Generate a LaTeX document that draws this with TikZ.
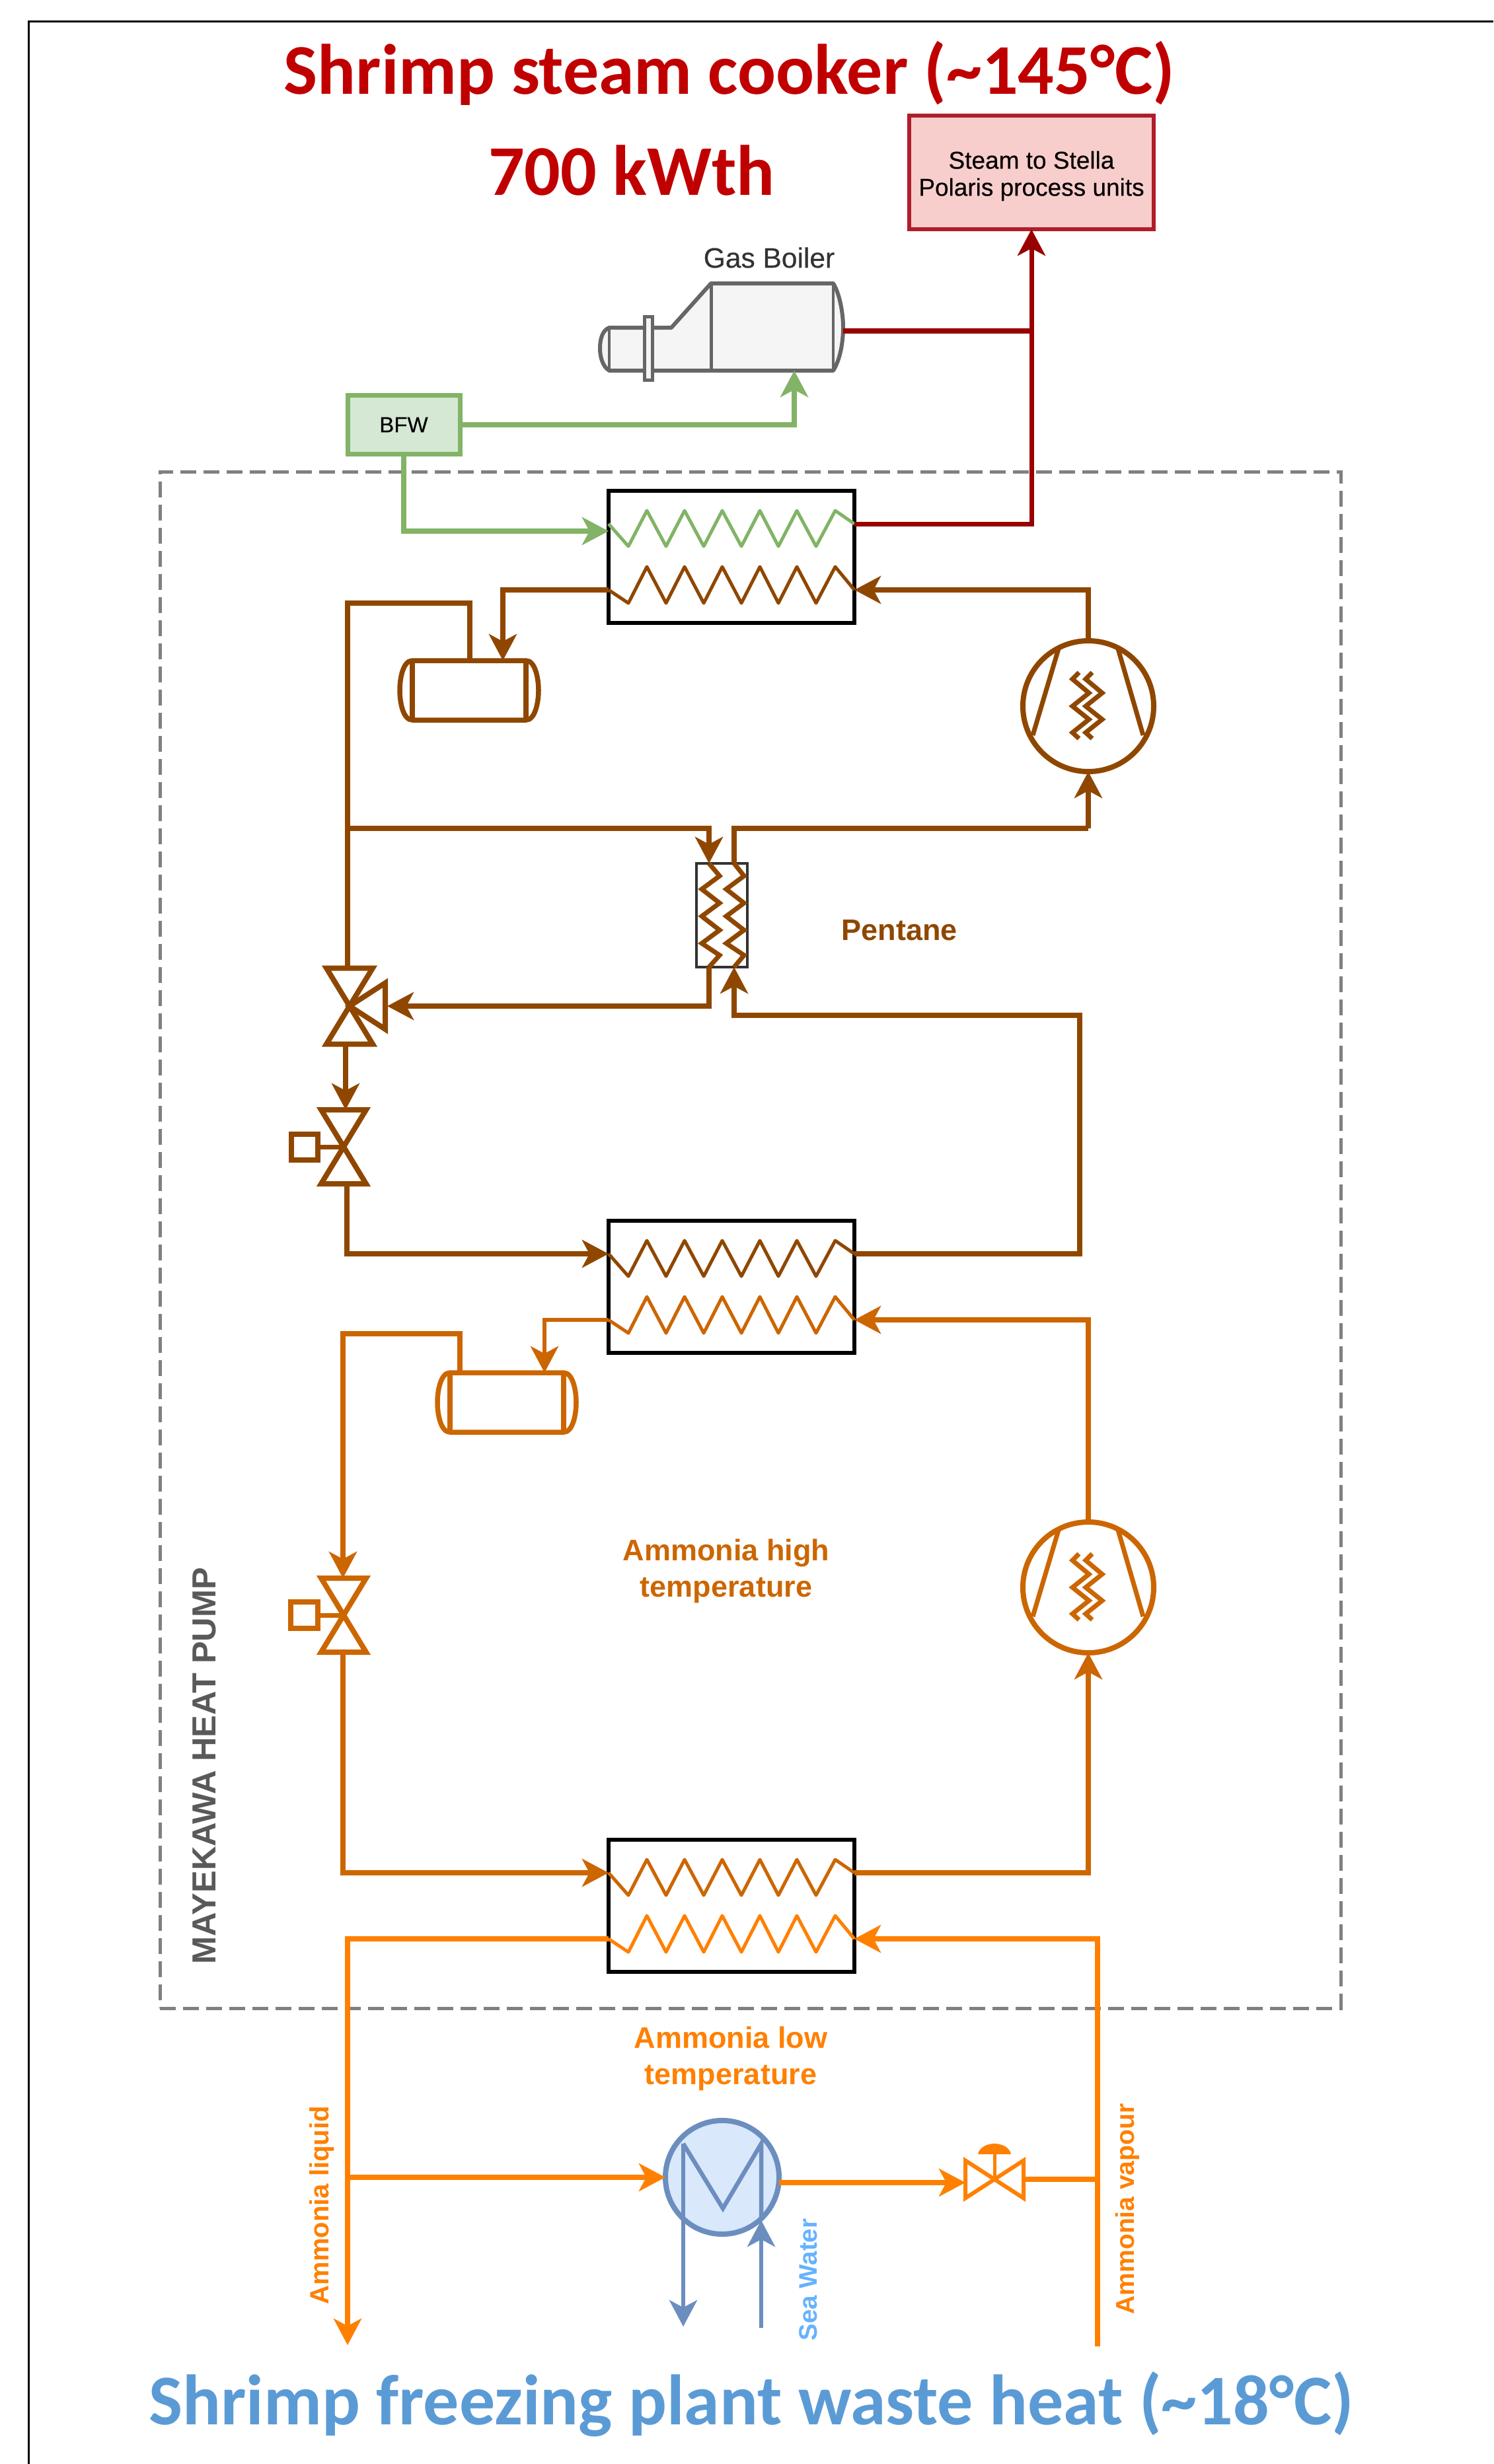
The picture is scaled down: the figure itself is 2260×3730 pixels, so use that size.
\documentclass[tikz,border=0pt]{standalone}
\usepackage{fontspec}
\setmainfont{Liberation Sans}
\newfontfamily\titlefont{Carlito}
\newfontfamily\heavyfont[FakeBold=0.35]{Liberation Sans}
\usetikzlibrary{arrows.meta}
\definecolor{cbrown}{HTML}{8F4700}
\definecolor{cmid}{HTML}{CC6600}
\definecolor{corange}{HTML}{FF8000}
\definecolor{cgreen}{HTML}{82B366}
\definecolor{cgreenf}{HTML}{D5E8D4}
\definecolor{cred}{HTML}{990000}
\definecolor{credb}{HTML}{AE1E2C}
\definecolor{credf}{HTML}{F8CECC}
\definecolor{ctitle}{HTML}{C00000}
\definecolor{cbluet}{HTML}{5B9BD5}
\definecolor{cshell}{HTML}{6C8EBF}
\definecolor{cshellf}{HTML}{DAE8FC}
\definecolor{csea}{HTML}{66B2FF}
\tikzset{
 pipe/.style={line width=8pt,miter limit=10},
 tipped/.style={-{Stealth[length=40pt,width=42pt,inset=11pt]}},
 hxbox/.style={draw=black,line width=5.5pt,minimum width=372pt,minimum height=200pt,inner sep=0pt,fill=white},
 coil/.style={line width=5pt,line join=round},
 sym/.style={inner sep=0pt,outer sep=0pt},
 label/.style={inner sep=0pt,font=\fontsize{45}{55}\selectfont\bfseries,align=center},
 bigtitle/.style={inner sep=0pt,anchor=base,font=\titlefont\fontsize{108}{110}\selectfont\bfseries}
}
\newcommand{\hxunit}[4]{%
 \begin{scope}[shift={(0,#2)}]
 \node[hxbox] (#1) at (1107,100) {};
 \coordinate (#1a) at (921,50); \coordinate (#1b) at (1293,50);
 \coordinate (#1c) at (921,150); \coordinate (#1d) at (1293,150);
 \draw[coil,#3] (#1a) -- (951,84) -- (979,30) -- (1008,84) -- (1036,30) -- (1065,84) -- (1093,30) -- (1122,84) -- (1150,30) -- (1178,84) -- (1206,30) -- (1235,84) -- (1264,30) -- (#1b);
 \draw[coil,#4] (#1c) -- (951,170) -- (979,115) -- (1008,170) -- (1036,115) -- (1065,170) -- (1093,115) -- (1122,170) -- (1150,115) -- (1178,170) -- (1206,115) -- (1235,170) -- (1264,115) -- (#1d);
 \end{scope}}
\newcommand{\compsym}[4]{%
 \node[sym,circle,draw=#4,line width=8pt,minimum size=198pt] (#1) at (#2,#3) {};
 \begin{scope}[shift={(#2,#3)},#4,line width=7pt]
 \draw (-45,-87) -- (-84,44);
 \draw (45,-87) -- (83,44);
 \draw (-14,-51) -- (-24,-41) -- (1,-20) -- (-24,0) -- (1,20) -- (-24,40) -- (-14,49);
 \draw (6,-51) -- (-4,-41) -- (21,-20) -- (-4,0) -- (21,20) -- (-4,40) -- (6,49);
 \end{scope}}
\newcommand{\tanksym}[4]{%
 \node[sym,minimum width=215pt,minimum height=90pt] (#1) at (#2,#3) {};
 \begin{scope}[shift={(#2,#3)},#4,line width=7.5pt]
 \draw (-86,-45) -- (86,-45) .. controls (100,-45) and (105,-18) .. (105,0) .. controls (105,18) and (100,45) .. (86,45) -- (-86,45) .. controls (-100,45) and (-105,18) .. (-105,0) .. controls (-105,-18) and (-100,-45) .. (-86,-45) -- cycle;
 \draw (-86,-45) -- (-86,45);
 \draw (86,-45) -- (86,45);
 \end{scope}}
\newcommand{\bowsym}[4]{%
 \node[sym,minimum width=68pt,minimum height=112pt] (#1) at (#2,#3) {};
 \draw[#4,line width=8pt,miter limit=10] (#1.north west) -- (#1.north east) -- (#1.south west) -- (#1.south east) -- cycle;}
\begin{document}
\begin{tikzpicture}[x=1pt,y=-1pt]
\useasboundingbox (0,0) rectangle (2260,3730);
% frame
\fill[white] (0,0) rectangle (2260,3730);
\draw[black,line width=3pt] (43,3730) -- (43,33) -- (2260,33);
% titles
\node[bigtitle,text=ctitle] (ttop) at (1104,143) {Shrimp steam cooker (\textasciitilde145°C)};
\node[bigtitle,text=ctitle] (tkw) at (956,296) {700 kWth};
\node[bigtitle,text=cbluet] (tbot) at (1137,3670) {Shrimp freezing plant waste heat (\textasciitilde18°C)};
% heat pump boundary
\node[sym,draw=gray,line width=5pt,dash pattern=on 24pt off 11pt,minimum width=1787pt,minimum height=2326pt] (hpbox) at (1135.5,1877) {};
\node[label,text=black!65,rotate=90,font=\fontsize{50.5}{55}\selectfont\bfseries] (hplab) at (309,2673) {MAYEKAWA HEAT PUMP};
% steam box, BFW, boiler
\node[sym,draw=credb,fill=credf,line width=6pt,minimum width=370pt,minimum height=172pt,text depth=0pt,font=\heavyfont\fontsize{37}{41}\selectfont,align=center] (steam) at (1561,261) {\raisebox{-3pt}{Steam to Stella}\\\raisebox{-3pt}{Polaris process units}};
\node[sym,draw=cgreen,fill=cgreenf,line width=7pt,minimum width=170pt,minimum height=89pt,font=\heavyfont\fontsize{33}{40}\selectfont] (bfw) at (611,643) {BFW};
\node[inner sep=0pt,text=black!80,font=\heavyfont\fontsize{42.5}{44}\selectfont] (gbl) at (1164,390) {Gas Boiler};
\node[sym,minimum width=367pt,minimum height=132pt] (boiler) at (1091.5,495) {};
\draw[draw=black!60,fill=black!4,line width=6pt,line join=round] (922,496) -- (1016,496) -- (1076,429) -- (1261,429) .. controls (1271,445) and (1276,475) .. (1276,495) .. controls (1276,520) and (1271,545) .. (1261,561) -- (922,561) .. controls (912,555) and (908,540) .. (908,528) .. controls (908,512) and (912,500) .. (922,496) -- cycle;
\draw[black!60,line width=5pt] (1076,429) -- (1076,561);
\draw[black!60,line width=4pt] (1261,429) -- (1261,561);
\draw[black!60,fill=black!4,line width=5pt] (975,479) rectangle (987,575);
\draw[black!60,line width=4pt] (922,496) -- (922,561);
% heat exchangers
\hxunit{hxa}{743}{cgreen}{cbrown}
\hxunit{hxb}{1848}{cbrown}{cmid}
\hxunit{hxc}{2785}{cmid}{corange}
% small heat exchanger
\node[sym,draw=black!80,line width=3.5pt,minimum width=77pt,minimum height=157pt] (shx) at (1092.5,1385.5) {};
\coordinate (shxa) at (1073,1307); \coordinate (shxb) at (1111,1307);
\coordinate (shxc) at (1073,1464); \coordinate (shxd) at (1111,1464);
\draw[cbrown,line width=7pt] (shxa) -- (1089,1326) -- (1062,1346) -- (1089,1367) -- (1062,1387) -- (1089,1408) -- (1062,1428) -- (1089,1446) -- (shxc);
\draw[cbrown,line width=7pt] (shxb) -- (1126,1326) -- (1099,1346) -- (1126,1367) -- (1099,1387) -- (1126,1408) -- (1099,1428) -- (1126,1446) -- (shxd);
% compressors, tanks
\compsym{compa}{1647}{1069}{cbrown}
\compsym{compb}{1647}{2403}{cmid}
\tanksym{tanka}{710}{1045}{cbrown}
\tanksym{tankb}{767}{2123}{cmid}
% valves
\node[sym,minimum width=70pt,minimum height=115pt] (vthree) at (529,1523) {};
\draw[cbrown,line width=8pt,miter limit=10] (vthree.north west) -- (vthree.north east) -- (vthree.south west) -- (vthree.south east) -- cycle;
\coordinate (vthreer) at (586,1523);
\draw[cbrown,line width=8pt,miter limit=10] (vthree.center) -- (583,1488) -- (583,1558) -- cycle;
\bowsym{vb}{520}{1736}{cbrown}
\node[sym,draw=cbrown,line width=8pt,minimum width=40pt,minimum height=39pt] (vbsq) at (460.5,1736) {};
\draw[cbrown,line width=7pt] (vbsq) -- (vb.center);
\bowsym{vc}{520}{2445}{cmid}
\node[sym,draw=cmid,line width=8pt,minimum width=41pt,minimum height=40pt] (vcsq) at (460.5,2445) {};
\draw[cmid,line width=7pt] (vcsq) -- (vc.center);
% brown cycle
\coordinate (tain) at (761,1000);
\coordinate (taout) at (711,1000);
\coordinate (tbin) at (824,2078);
\coordinate (tbout) at (696,2078);
\draw[pipe,cbrown,tipped] (compa.north) |- (hxad);
\draw[pipe,cbrown,tipped] (hxac) -| (tain);
\draw[pipe,cbrown] (taout) |- (526,913) -- (vthree.north -| 526,0);
\draw[pipe,cbrown,tipped] (526,1254) -| (shxa);
\draw[pipe,cbrown,tipped] (shxc) |- (vthreer);
\draw[pipe,cbrown] (shxb) |- (1647,1254);
\draw[pipe,cbrown,tipped] (1647,1254) -- (compa.south);
\draw[pipe,cbrown,tipped] (hxbb) -| (1634,1537) -| (shxd);
\draw[pipe,cbrown,tipped] (vthree.south -| 523,0) -- (vb.north -| 523,0);
\draw[pipe,cbrown,tipped] (vb.south -| 525,0) |- (hxba);
% mid orange cycle
\draw[pipe,cmid,line width=6.5pt,tipped] (hxbc) -| (tbin);
\draw[pipe,cmid,tipped] (tbout) |- (519,2019) -- (vc.north -| 519,0);
\draw[pipe,cmid,tipped] (vc.south -| 519,0) |- (hxca);
\draw[pipe,cmid,tipped] (hxcb) -| (compb.south);
\draw[pipe,cmid,tipped] (compb.north) |- (hxbd);
% green and red
\coordinate (bfwin) at (921,804);
\draw[pipe,cgreen,tipped] (bfw.east) -| (boiler.south -| 1202,0);
\draw[pipe,cgreen,tipped] (bfw.south) |- (bfwin);
\draw[pipe,cred,line width=7pt,tipped] (hxab) -| (steam.south);
\draw[pipe,cred] (1276,501) -- (1561,501);
% low temperature side
\node[sym,circle,draw=cshell,fill=cshellf,line width=8pt,minimum size=172pt] (cond) at (1093,3296) {};
\coordinate (condl) at (1034,3245); \coordinate (condr) at (1152,3245);
\coordinate (seaout) at (1034,3522); \coordinate (seain) at (1152,3524);
\draw[cshell,line width=6.5pt,miter limit=10] (seaout |- condl) -- (1094,3343) -- (condr) -- (1152,3360);
\draw[pipe,cshell,line width=6.5pt,tipped] (condl) -- (seaout);
\draw[pipe,cshell,line width=6.5pt,tipped] (seain) -- (1152,3361);
\node[sym,minimum width=88pt,minimum height=57pt] (vd) at (1505,3299) {};
\draw[corange,line width=6pt,miter limit=10] (vd.north west) -- (vd.south west) -- (vd.north east) -- (vd.south east) -- cycle;
\draw[corange,line width=5pt] (vd.center) -- (1505,3259);
\fill[corange] (1480,3261) .. controls (1482,3250) and (1495,3245) .. (1505,3245) .. controls (1515,3245) and (1528,3250) .. (1530,3261) -- cycle;
\coordinate (liqend) at (526,3550);
\coordinate (vapend) at (1661,3552);
\draw[pipe,corange,tipped] (hxcc) -| (liqend);
\draw[pipe,corange,tipped] (526,3296) -- (cond.west);
\draw[pipe,corange,tipped] (1179,3304) -- (vd.west |- 0,3304);
\draw[pipe,corange] (vd.east) -- (1661,3299);
\draw[pipe,corange,tipped] (vapend) |- (hxcd);
% labels
\node[label,text=cbrown] (lpent) at (1361,1408) {Pentane};
\node[label,text=cmid] (lhigh) at (1099,2378) {Ammonia high\\temperature};
\node[label,text=corange] (llow) at (1106,3116) {Ammonia low\\temperature};
\node[label,text=corange,rotate=90,font=\fontsize{40}{46}\selectfont\bfseries] (lliq) at (487,3338) {Ammonia liquid};
\node[label,text=corange,rotate=90,font=\fontsize{39}{46}\selectfont\bfseries] (lvap) at (1706,3344) {Ammonia vapour};
\node[label,text=csea,rotate=90,font=\fontsize{38.5}{46}\selectfont\bfseries] (lsea) at (1223,3451) {Sea Water};
\end{tikzpicture}
\end{document}
